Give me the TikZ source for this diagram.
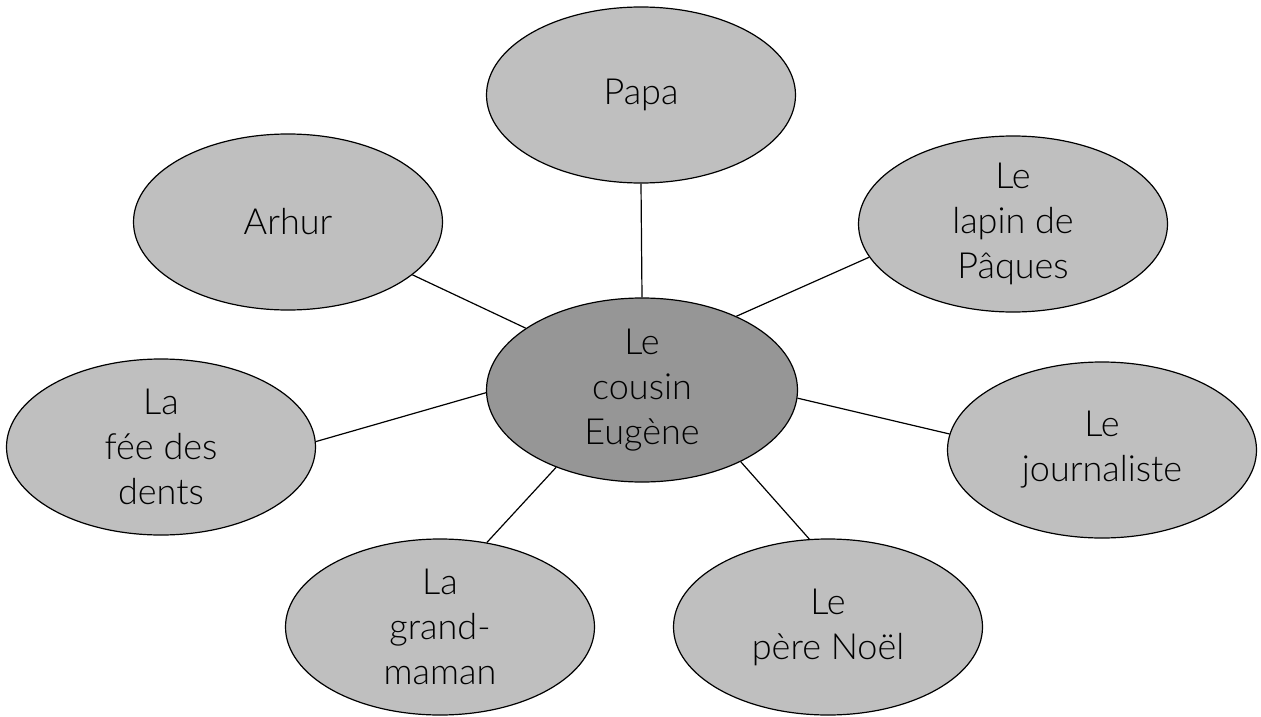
\documentclass[tikz,border=0pt]{standalone}
\usepackage{fontspec}
\setmainfont{Lato Light}
\usetikzlibrary{shapes.geometric}
\definecolor{outergray}{HTML}{BFBFBF}
\definecolor{centergray}{HTML}{969696}
\tikzset{
  bubble/.style={ellipse, draw=black, line width=1.2pt, fill=outergray,
    minimum width=309pt, minimum height=176pt, inner sep=0pt, align=center,
    font=\fontsize{36}{45}\selectfont},
  hub/.style={bubble, fill=centergray, minimum height=184pt, minimum width=311pt},
  link/.style={line width=1.2pt, draw=black}
}
\begin{document}
\begin{tikzpicture}[x=1pt,y=-1pt]
\useasboundingbox (0,0) rectangle (1261,717);
\node[hub] (c) at (642,390) {Le\\cousin\\Eugène};
\node[bubble] (papa) at (641,95) {Papa};
\node[bubble] (arhur) at (288,222) {Arhur};
\node[bubble] (lapin) at (1013,224) {Le\\lapin de\\Pâques};
\node[bubble] (fee) at (161,447) {La\\fée des\\dents};
\node[bubble] (journ) at (1102,450) {Le\\journaliste};
\node[bubble] (grand) at (440,627) {La\\grand-\\maman};
\node[bubble] (noel) at (828,627) {Le\\père Noël};
\draw[link] (c.north) -- (papa.south);
\draw[link] (c.152) -- (arhur.337);
\draw[link] (c.38) -- (lapin.193);
\draw[link] (c.181) -- (fee.2);
\draw[link] (c.357) -- (journ.174);
\draw[link] (c.222) -- (grand.61);
\draw[link] (c.324) -- (noel.102);
\end{tikzpicture}
\end{document}
